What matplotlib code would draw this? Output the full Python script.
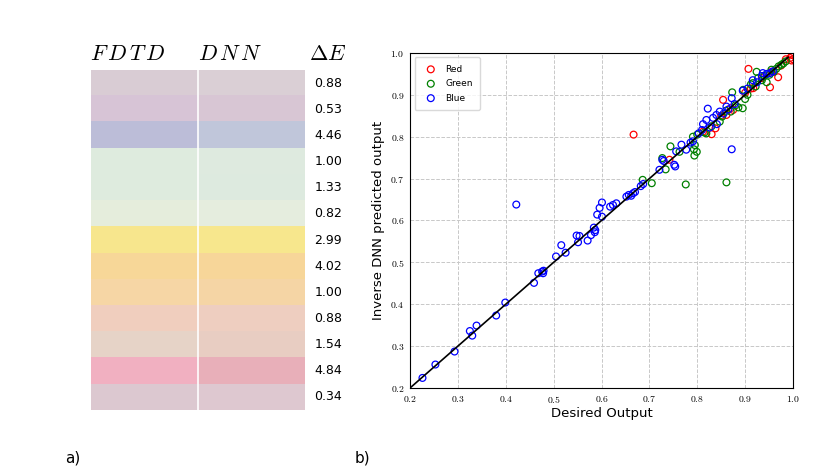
import matplotlib.pyplot as plt
from matplotlib.ticker import FuncFormatter, MultipleLocator
import numpy as np

plt.rcParams['mathtext.fontset'] = 'cm'
plt.rcParams['font.family'] = ['DejaVu Sans']

#  Colour swatches, FDTD column and DNN column (RGB 0..255)
fdtd_colors = [(217, 204, 212), (215, 196, 214), (188, 189, 216), (222, 235, 222),
               (222, 235, 222), (229, 237, 220), (247, 230, 141), (247, 215, 152),
               (246, 214, 165), (240, 206, 190), (230, 211, 199), (241, 176, 193),
               (220, 200, 208)]
dnn_colors = [(218, 207, 213), (216, 198, 212), (192, 198, 218), (222, 234, 223),
              (221, 234, 223), (229, 237, 222), (247, 231, 141), (247, 214, 153),
              (245, 213, 165), (238, 206, 192), (232, 205, 194), (232, 175, 185),
              (222, 200, 208)]
delta_e = ['0.88', '0.53', '4.46', '1.00', '1.33', '0.82', '2.99',
           '4.02', '1.00', '0.88', '1.54', '4.84', '0.34']

#  Scatter data, desired vs predicted
red_x = [0.667, 0.742, 0.812, 0.830, 0.838, 0.850, 0.854, 0.861, 0.870, 0.875,
         0.900, 0.907, 0.912, 0.917, 0.935, 0.952, 0.955, 0.969, 0.975, 0.985,
         0.994, 0.998, 1.000, 0.997]
red_y = [0.805, 0.745, 0.812, 0.806, 0.820, 0.850, 0.888, 0.852, 0.868, 0.864,
         0.905, 0.962, 0.915, 0.916, 0.940, 0.918, 0.955, 0.942, 0.970, 0.985,
         0.988, 0.995, 0.985, 0.982]
green_x = [0.686, 0.705, 0.727, 0.734, 0.744, 0.763, 0.776, 0.791, 0.793, 0.794,
           0.795, 0.799, 0.800, 0.815, 0.819, 0.830, 0.847, 0.852, 0.861, 0.860,
           0.870, 0.873, 0.880, 0.886, 0.895, 0.896, 0.900, 0.905, 0.912, 0.916,
           0.922, 0.924, 0.927, 0.935, 0.940, 0.945, 0.951, 0.955, 0.960, 0.965,
           0.970, 0.976, 0.980, 0.985]
green_y = [0.697, 0.689, 0.749, 0.722, 0.777, 0.764, 0.686, 0.800, 0.770, 0.755,
           0.780, 0.764, 0.805, 0.810, 0.808, 0.825, 0.836, 0.848, 0.691, 0.862,
           0.860, 0.906, 0.875, 0.870, 0.868, 0.912, 0.890, 0.900, 0.925, 0.928,
           0.920, 0.955, 0.940, 0.935, 0.945, 0.930, 0.948, 0.960, 0.955, 0.962,
           0.968, 0.972, 0.975, 0.980]
blue_x = [0.226, 0.253, 0.293, 0.325, 0.330, 0.339, 0.380, 0.399, 0.422, 0.459,
          0.468, 0.476, 0.478, 0.479, 0.505, 0.516, 0.525, 0.548, 0.551, 0.554,
          0.571, 0.578, 0.584, 0.586, 0.587, 0.591, 0.596, 0.601, 0.601, 0.618,
          0.624, 0.631, 0.652, 0.657, 0.662, 0.666, 0.670, 0.682, 0.687, 0.721,
          0.727, 0.730, 0.752, 0.754, 0.756, 0.767, 0.777, 0.786, 0.791, 0.803,
          0.810, 0.812, 0.819, 0.822, 0.826, 0.833, 0.840, 0.841, 0.847, 0.855,
          0.861, 0.865, 0.872, 0.872, 0.878, 0.895, 0.905, 0.916, 0.925, 0.935,
          0.937, 0.945, 0.952, 0.958]
blue_y = [0.224, 0.256, 0.287, 0.336, 0.325, 0.349, 0.373, 0.404, 0.638, 0.451,
          0.474, 0.478, 0.474, 0.480, 0.514, 0.541, 0.523, 0.564, 0.548, 0.563,
          0.552, 0.565, 0.583, 0.572, 0.577, 0.614, 0.630, 0.609, 0.643, 0.633,
          0.637, 0.641, 0.657, 0.661, 0.659, 0.665, 0.668, 0.682, 0.687, 0.721,
          0.745, 0.742, 0.733, 0.729, 0.765, 0.781, 0.769, 0.786, 0.789, 0.808,
          0.816, 0.830, 0.840, 0.867, 0.822, 0.845, 0.852, 0.830, 0.860, 0.855,
          0.872, 0.865, 0.892, 0.770, 0.878, 0.910, 0.915, 0.935, 0.930, 0.945,
          0.952, 0.950, 0.952, 0.956]
line_xy = [0.2, 0.99]

fig = plt.figure(figsize=(8.3, 4.75), dpi=100)

#  a) colour comparison table
ax1 = fig.add_axes([0.1096, 0.1368, 0.2578, 0.7158])
n_rows = len(delta_e)
img = np.array([[fdtd_colors[i], dnn_colors[i]] for i in range(n_rows)]) / 255.0
ax1.imshow(img, aspect='auto', extent=(0, 2, n_rows, 0), interpolation='nearest')
ax1.axvline(1, color='white', lw=1.2)
ax1.set_xlim(0, 2)
ax1.set_ylim(n_rows, 0)
ax1.axis('off')
for i, val in enumerate(delta_e):
    ax1.text(2.09, i + 0.5, val, ha='left', va='center', fontsize=9, clip_on=False)
#  Column headers (math italic, spaced like LaTeX)
ax1.text(-0.01, -0.6, r'$F\,D\,T\,D$', ha='left', va='center', fontsize=16)
ax1.text(1.0, -0.6, r'$D\,N\,N$', ha='left', va='center', fontsize=16)
ax1.text(2.04, -0.6, r'$\Delta E$', ha='left', va='center', fontsize=16)

#  b) scatter of predicted output
ax2 = fig.add_axes([0.494, 0.1832, 0.4614, 0.7053])
ax2.grid(axis='both', color='#c8c8c8', linestyle='--', lw=0.7)
ax2.set_axisbelow(True)
sc_kw = dict(facecolors='none', s=24, linewidths=0.9)
ax2.scatter(red_x, red_y, edgecolors='red', label='Red', **sc_kw)
ax2.scatter(green_x, green_y, edgecolors='green', label='Green', **sc_kw)
ax2.scatter(blue_x, blue_y, edgecolors='blue', label='Blue', **sc_kw)
ax2.plot(line_xy, line_xy, color='black', lw=1.2)
ax2.set_xlim(0.2, 1.0)
ax2.set_ylim(0.2, 1.0)
ax2.xaxis.set_major_locator(MultipleLocator(0.1))
ax2.yaxis.set_major_locator(MultipleLocator(0.1))
fmt = FuncFormatter(lambda v, p: r'$%.1f$' % v)
ax2.xaxis.set_major_formatter(fmt)
ax2.yaxis.set_major_formatter(fmt)
ax2.tick_params(length=0, labelsize=7, pad=4)
ax2.set_xlabel('Desired Output', fontsize=9.5, labelpad=2)
ax2.set_ylabel('Inverse DNN predicted output', fontsize=9.5, labelpad=4)
ax2.legend(loc='upper left', fontsize=6.5, frameon=True, borderpad=0.8,
           labelspacing=0.6, handletextpad=0.6, edgecolor='#d0d0d0')

fig.text(65 / 830, 1 - 458 / 475, 'a)', fontsize=11, va='center')
fig.text(355 / 830, 1 - 458 / 475, 'b)', fontsize=11, va='center')

fig.savefig('out.png', dpi=100)
